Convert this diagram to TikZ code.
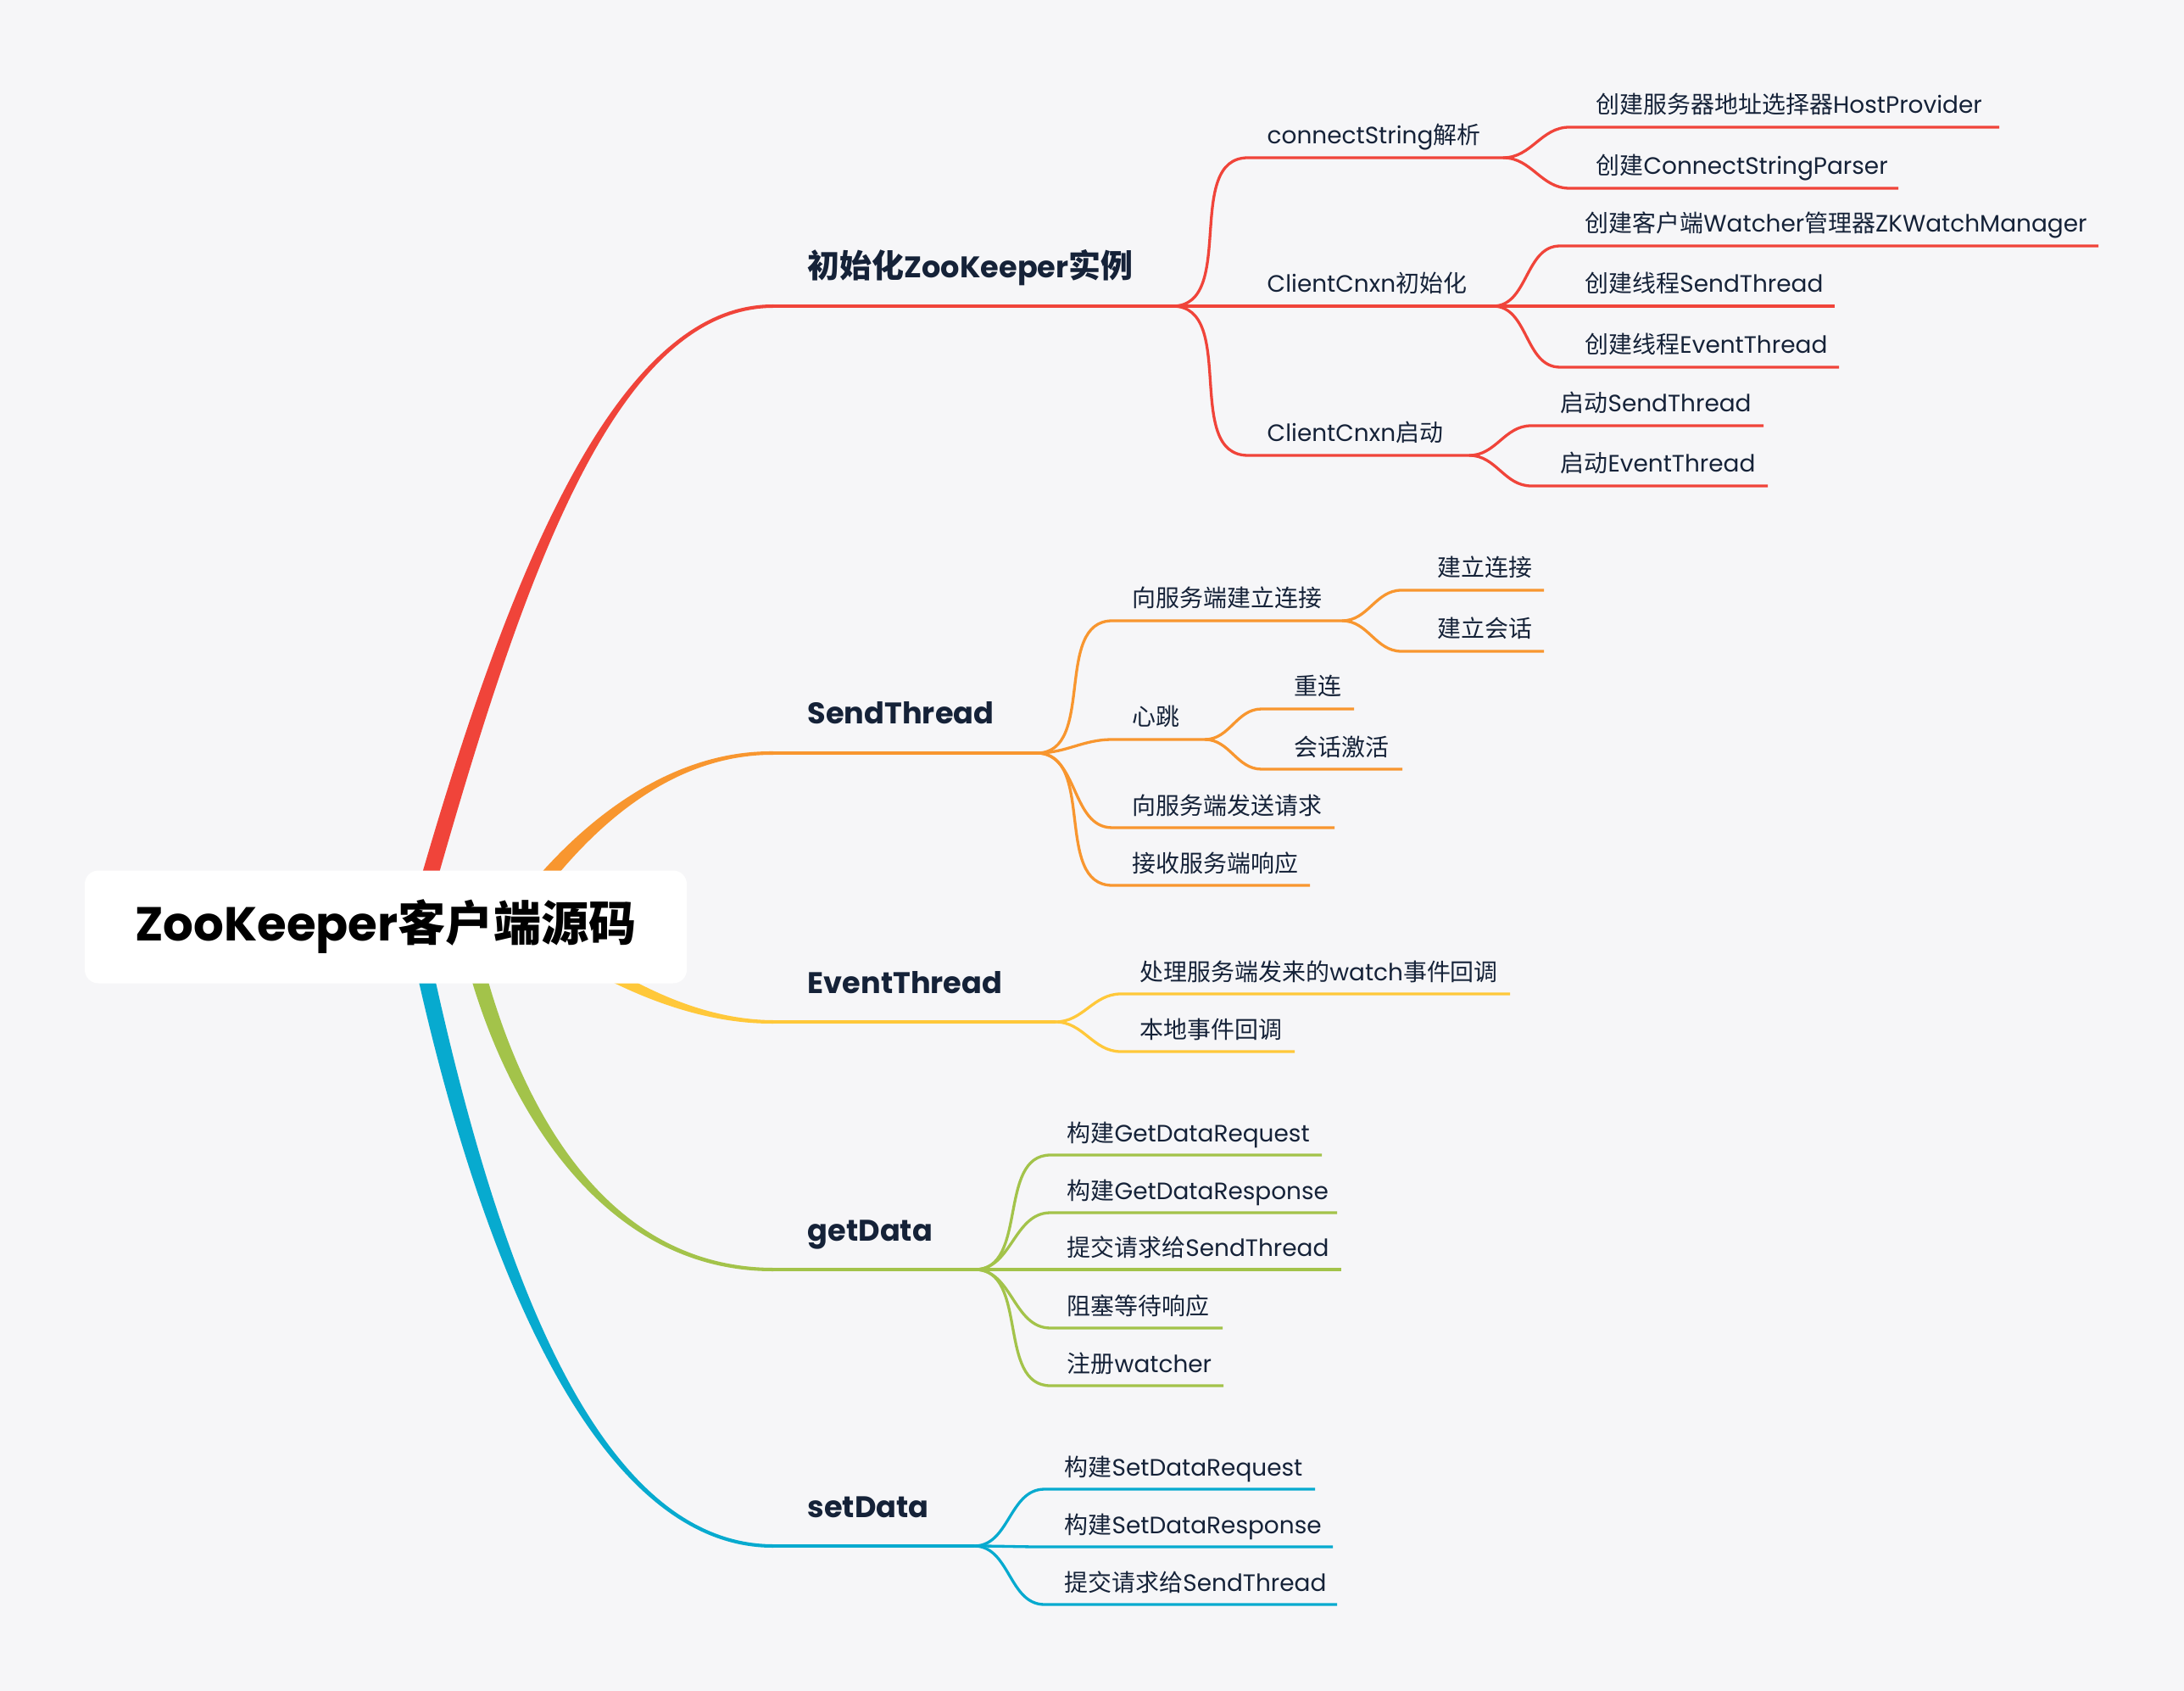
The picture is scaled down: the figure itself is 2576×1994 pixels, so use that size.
\documentclass[tikz,border=0pt]{standalone}
\usepackage{fontspec}
\setmainfont{Poppins}
\newfontfamily\zhfont{Noto Sans CJK SC}
\usetikzlibrary{calc}

\definecolor{bgcol}{HTML}{F6F6F8}
\definecolor{txtcol}{HTML}{152238}
\definecolor{brred}{HTML}{F0443A}
\definecolor{brorange}{HTML}{F8962F}
\definecolor{bryellow}{HTML}{FFC83A}
\definecolor{brgreen}{HTML}{A3C34A}
\definecolor{brblue}{HTML}{07AACF}

\newcommand\zh[1]{{\zhfont #1}}
% Chinese inside the bold branch labels is set a bit larger than the Latin
\newcommand\zhb[1]{{\fontsize{10.8}{13}\selectfont\zhfont #1}}

\tikzset{
  root box/.style={fill=white, rounded corners=1.6mm, minimum width=71mm,
    minimum height=13.3mm, inner sep=0pt, font=\fontsize{16}{19}\selectfont\bfseries, text=black},
  branch text/.style={anchor=base west, inner sep=0pt,
    font=\fontsize{10}{12}\selectfont\bfseries, text=txtcol},
  leaf text/.style={anchor=base west, inner sep=0pt,
    font=\fontsize{7.95}{10}\selectfont, text=txtcol},
  branch line/.style={line width=0.42mm},
  leaf line/.style={line width=0.33mm},
}

% tapered branch out of the root: colour, start, c1, c2, end,
% half width at the start, half width at the end
\newcommand\mainbranch[7]{%
  \fill[#1] ($(#2)+(#6)$) .. controls ($(#3)+(#6)$) and ($(#4)+1.3*(#7)$) .. ($(#5)+(#7)$)
    -- ($(#5)-(#7)$) .. controls ($(#4)-1.3*(#7)$) and ($(#3)-(#6)$) .. ($(#2)-(#6)$) -- cycle;}

% one item: name, parent junction, colour, line start x, line y, line end x, text x, text
\newcommand\leaf[8]{%
  \coordinate (#1-s) at (#4,#5);
  \coordinate (#1-e) at (#6,#5);
  \node[leaf text] (#1) at (#7,#5-16) {#8};
  \draw[leaf line,#3] (#2) to[out=0,in=180] (#1-s) -- (#1-e);}

\begin{document}
\begin{tikzpicture}[x=0.1mm,y=-0.1mm]
  \fill[bgcol] (0,0) rectangle (2576,1994);

  % where the branches leave the root (hidden under the box)
  \coordinate (root-red) at (490,1093);
  \coordinate (root-orange) at (600,1093);
  \coordinate (root-yellow) at (640,1100);
  \coordinate (root-green) at (550,1093);
  \coordinate (root-blue) at (490,1093);

  % first level
  \coordinate (init-s) at (912,361);   \coordinate (init-j) at (1383,361);
  \coordinate (send-s) at (912,888);   \coordinate (send-j) at (1223,888);
  \coordinate (event-s) at (912,1205); \coordinate (event-j) at (1245,1205);
  \coordinate (get-s) at (912,1497);   \coordinate (get-j) at (1150,1497);
  \coordinate (set-s) at (912,1823);   \coordinate (set-j) at (1149,1823);

  \mainbranch{brred}{root-red}{600,700}{720,361}{init-s}{-10,0}{0,-2}
  \mainbranch{brorange}{root-orange}{650,1020}{760,887}{send-s}{-7,-6}{0,-2}
  \mainbranch{bryellow}{root-yellow}{700,1140}{800,1205}{event-s}{-4,8}{0,2}
  \mainbranch{brgreen}{root-green}{590,1280}{700,1497}{get-s}{-9,3}{0,2}
  \mainbranch{brblue}{root-blue}{570,1480}{700,1823}{set-s}{-10,0}{0,2}

  \draw[branch line,brred] (init-s) -- (init-j);
  \draw[branch line,brorange] (send-s) -- (send-j);
  \draw[branch line,bryellow] (event-s) -- (event-j);
  \draw[branch line,brgreen] (get-s) -- (get-j);
  \draw[branch line,brblue] (set-s) -- (set-j);

  \node[root box] (root) at (455,1093) {ZooKeeper\zh{客户端源码}};

  \node[branch text] (init) at (952,328) {\zhb{初始化}ZooKeeper\zhb{实例}};
  \node[branch text] (send) at (952,854) {SendThread};
  \node[branch text] (event) at (952,1171) {EventThread};
  \node[branch text] (get) at (952,1463) {getData};
  \node[branch text] (set) at (952,1789) {setData};

  % init ZooKeeper
  \leaf{cs}{init-j}{brred}{1472}{186}{1773}{1494}{connectString\zh{解析}}
  \leaf{cc}{init-j}{brred}{1472}{361}{1761}{1494}{ClientCnxn\zh{初始化}}
  \leaf{cq}{init-j}{brred}{1472}{537}{1733}{1494}{ClientCnxn\zh{启动}}
  \leaf{hp}{cs-e}{brred}{1851}{150}{2358}{1882}{\zh{创建服务器地址选择器}HostProvider}
  \leaf{csp}{cs-e}{brred}{1851}{222}{2239}{1882}{\zh{创建}ConnectStringParser}
  \leaf{zkw}{cc-e}{brred}{1840}{290}{2475}{1869}{\zh{创建客户端}Watcher\zh{管理器}ZKWatchManager}
  \leaf{cst}{cc-e}{brred}{1840}{361}{2164}{1869}{\zh{创建线程}SendThread}
  \leaf{cet}{cc-e}{brred}{1840}{433}{2169}{1869}{\zh{创建线程}EventThread}
  \leaf{qst}{cq-e}{brred}{1806}{502}{2080}{1840}{\zh{启动}SendThread}
  \leaf{qet}{cq-e}{brred}{1806}{573}{2085}{1840}{\zh{启动}EventThread}

  % SendThread
  \leaf{conn}{send-j}{brorange}{1312}{732}{1583}{1335}{\zh{向服务端建立连接}}
  \leaf{hb}{send-j}{brorange}{1312}{872}{1421}{1335}{\zh{心跳}}
  \leaf{req}{send-j}{brorange}{1312}{976}{1574}{1335}{\zh{向服务端发送请求}}
  \leaf{resp}{send-j}{brorange}{1312}{1044}{1545}{1335}{\zh{接收服务端响应}}
  \leaf{conn1}{conn-e}{brorange}{1653}{696}{1821}{1695}{\zh{建立连接}}
  \leaf{conn2}{conn-e}{brorange}{1653}{768}{1821}{1695}{\zh{建立会话}}
  \leaf{hb1}{hb-e}{brorange}{1488}{836}{1597}{1526}{\zh{重连}}
  \leaf{hb2}{hb-e}{brorange}{1488}{907}{1654}{1526}{\zh{会话激活}}

  % EventThread
  \leaf{watch}{event-j}{bryellow}{1322}{1172}{1781}{1344}{\zh{处理服务端发来的}watch\zh{事件回调}}
  \leaf{local}{event-j}{bryellow}{1322}{1240}{1527}{1344}{\zh{本地事件回调}}

  % getData
  \leaf{gq}{get-j}{brgreen}{1239}{1362}{1559}{1258}{\zh{构建}GetDataRequest}
  \leaf{gr}{get-j}{brgreen}{1239}{1430}{1577}{1258}{\zh{构建}GetDataResponse}
  \leaf{gs}{get-j}{brgreen}{1239}{1497}{1582}{1258}{\zh{提交请求给}SendThread}
  \leaf{gw}{get-j}{brgreen}{1239}{1566}{1442}{1258}{\zh{阻塞等待响应}}
  \leaf{gc}{get-j}{brgreen}{1239}{1634}{1443}{1258}{\zh{注册}watcher}

  % setData
  \leaf{sq}{set-j}{brblue}{1232}{1756}{1551}{1255}{\zh{构建}SetDataRequest}
  \leaf{sr}{set-j}{brblue}{1232}{1824}{1572}{1255}{\zh{构建}SetDataResponse}
  \leaf{ss}{set-j}{brblue}{1232}{1892}{1577}{1255}{\zh{提交请求给}SendThread}
\end{tikzpicture}
\end{document}
